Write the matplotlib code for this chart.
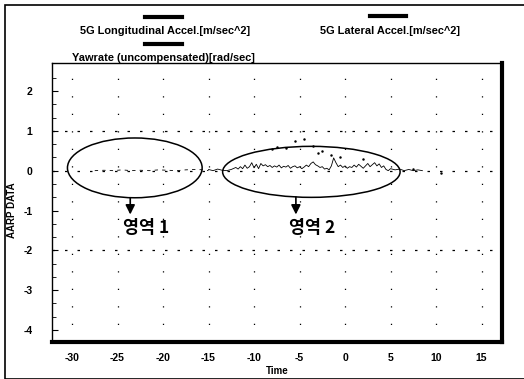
import matplotlib
matplotlib.use("Agg")
import matplotlib.pyplot as plt
from matplotlib.patches import Ellipse, Rectangle
from matplotlib.lines import Line2D

plt.rcParams['font.family'] = ['Liberation Sans', 'DejaVu Sans']
plt.rcParams['axes.unicode_minus'] = False

# ---- data ----
x_ticks = [-30, -25, -20, -15, -10, -5, 0, 5, 10, 15]
y_ticks = [2, 1, 0, -1, -2, -3, -4]

# region 1 (quiet yaw rate, broken trace)
t1 = [-27.5, -26.5, -25.5, -24.5, -23.5, -22.5, -21.5, -20.5, -19.5, -18.5, -17.5, -16.5, -15.5, -15.0]
y1 = [0.00, 0.01, 0.00, 0.02, 0.00, 0.01, 0.00, 0.02, 0.01, 0.00, 0.02, 0.03, 0.02, 0.00]

# region 2 (noisy yaw rate)
t2 = [-15.0, -14.5, -14.0, -13.5, -13.0, -12.5, -12.0, -11.75, -11.5, -11.25, -11.0, -10.75,
      -10.5, -10.25, -10.0, -9.75, -9.5, -9.25, -9.0, -8.75, -8.5, -8.25, -8.0, -7.75, -7.5,
      -7.25, -7.0, -6.75, -6.5, -6.25, -6.0, -5.75, -5.5, -5.25, -5.0, -4.75, -4.5, -4.25,
      -4.0, -3.75, -3.5, -3.25, -3.0, -2.75, -2.5, -2.25, -2.0, -1.75, -1.5, -1.25, -1.0,
      -0.75, -0.5, -0.25, 0.0, 0.25, 0.5, 0.75, 1.0, 1.25, 1.5, 1.75, 2.0, 2.25, 2.5, 2.75,
      3.0, 3.25, 3.5, 3.75, 4.0, 4.25, 4.5, 4.75, 5.0, 5.5, 6.0, 6.5, 7.0, 7.5, 8.0, 8.5]
y2 = [0.03, 0.00, 0.04, 0.01, 0.00, 0.03, 0.08, 0.04, 0.10, 0.05, 0.14, 0.06, 0.10, 0.20,
      0.07, 0.16, 0.05, 0.18, 0.12, 0.15, 0.10, 0.13, 0.08, 0.12, 0.09, 0.14, 0.07, 0.11,
      0.09, 0.13, 0.06, 0.10, 0.12, 0.07, 0.10, 0.05, 0.09, 0.14, 0.10, 0.18, 0.22, 0.15,
      0.12, 0.08, 0.10, 0.04, 0.06, 0.02, 0.12, 0.32, 0.20, 0.10, 0.14, 0.08, 0.12, 0.06,
      0.10, 0.08, 0.14, 0.09, 0.16, 0.11, 0.06, 0.12, 0.18, 0.10, 0.15, 0.20, 0.12, 0.17,
      0.08, 0.12, 0.03, 0.00, 0.05, 0.02, 0.04, 0.00, 0.03, 0.00, 0.02, 0.00]

# scattered lateral accel points
t3 = [-8.0, -7.5, -6.5, -5.5, -4.5, -3.5, -3.0, -2.5, -1.5, -0.5, 2.0, 7.5, 10.5]
y3 = [0.55, 0.60, 0.58, 0.75, 0.80, 0.62, 0.45, 0.50, 0.40, 0.35, 0.30, 0.05, -0.05]

# ---- figure ----
fig = plt.figure(figsize=(5.24, 3.79), dpi=100)
ax = fig.add_axes([0.0992, 0.0976, 0.858, 0.736])
ax.set_xlim(-32.2, 17.2)
ax.set_ylim(-4.3, 2.7)

# grid
for yv in [1, 0, -2]:
    ax.axhline(yv, color='black', lw=0.9, ls=(0, (2, 8)), zorder=1)
for xv in x_ticks:
    ax.axvline(xv, color='black', lw=0.9, ls=(0, (1, 13)), zorder=1)

ax.plot(t1, y1, color='black', lw=0.6, ls=(0, (4, 5)), zorder=3)
ax.plot(t2, y2, color='black', lw=0.6, zorder=3)
ax.scatter(t3, y3, s=0.6, color='black', zorder=3)

# ellipses, arrows, labels
ax.add_patch(Ellipse((-23.1, 0.07), 14.8, 1.5, fill=False, ec='black', lw=1.1, zorder=4))
ax.add_patch(Ellipse((-3.7, -0.03), 19.5, 1.28, fill=False, ec='black', lw=1.1, zorder=4))
for xa, ys in [(-23.6, -0.68), (-5.4, -0.66)]:
    ax.annotate('', xy=(xa, -1.1), xytext=(xa, ys),
                arrowprops=dict(arrowstyle='-|>', color='black', lw=1.2, mutation_scale=14,
                                shrinkA=0, shrinkB=0))
for xl, lab in [(-21.9, '영역 1'), (-3.6, '영역 2')]:
    ax.text(xl, -1.45, lab, ha='center', va='center', fontsize=12.5, fontweight='bold',
            family=['Noto Sans CJK KR', 'DejaVu Sans'])

# ticks
ax.set_xticks(x_ticks)
ax.set_yticks(y_ticks)
ax.set_yticks([v / 3 for v in range(-12, 8)], minor=True)
ax.tick_params(axis='x', length=0, pad=8, labelsize=7.5)
ax.tick_params(axis='y', which='major', length=4, pad=14, labelsize=7.5, direction='in')
ax.tick_params(axis='y', which='minor', length=3, direction='in')
for lbl in ax.get_xticklabels() + ax.get_yticklabels():
    lbl.set_fontweight('bold')

for s in ['top', 'left']:
    ax.spines[s].set_linewidth(1.0)
for s in ['bottom', 'right']:
    ax.spines[s].set_linewidth(3.0)

ax.set_xlabel('Time', fontsize=7, fontweight='bold', labelpad=2)
fig.text(12 / 524, 1 - 210 / 379, 'AARP DATA', rotation=90, fontsize=7, fontweight='bold',
         ha='center', va='center')

# legend (figure coords)
def leg(x0, x1, yl, xt, yt, text):
    fig.add_artist(Line2D([x0 / 524, x1 / 524], [1 - yl / 379, 1 - yl / 379], color='black', lw=3))
    fig.text(xt / 524, 1 - yt / 379, text, fontsize=7.9, fontweight='bold', ha='left', va='center')

leg(145, 182, 17, 80, 31, '5G Longitudinal Accel.[m/sec^2]')
leg(370, 406, 16, 320, 31, '5G Lateral Accel.[m/sec^2]')
leg(145, 182, 44, 72, 58, 'Yawrate (uncompensated)[rad/sec]')

# outer frame
fig.add_artist(Rectangle((5 / 524, 0), 1, 1 - 5 / 379, transform=fig.transFigure,
                         fill=False, ec='black', lw=1.2))

fig.savefig('out.png', dpi=100)
